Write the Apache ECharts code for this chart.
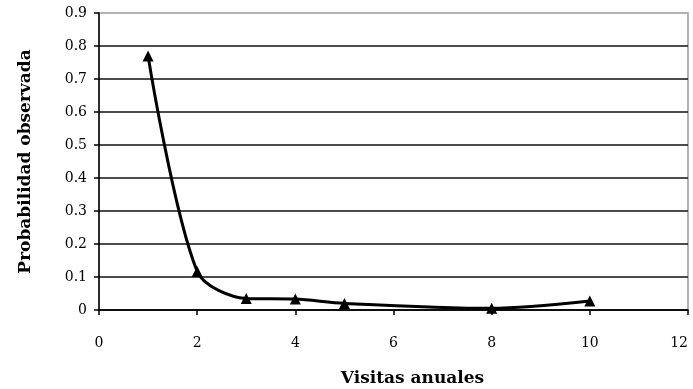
<!DOCTYPE html>
<html>
<head>
<meta charset="utf-8">
<script src="https://cdn.jsdelivr.net/npm/echarts@6/dist/echarts.min.js"></script>
<style>html,body{margin:0;padding:0;background:#fff;}#c{width:693px;height:389px;}</style>
</head>
<body>
<div id="c"></div>
<script>
var visitas = [1, 2, 3, 4, 5, 8, 10];
var probabilidad = [0.77, 0.117, 0.035, 0.033, 0.02, 0.005, 0.027];
var xTicks = [0, 2, 4, 6, 8, 10, 12];
var yTicks = [0, 0.1, 0.2, 0.3, 0.4, 0.5, 0.6, 0.7, 0.8, 0.9];

var font = 'DejaVu Serif';
var chart = echarts.init(document.getElementById('c'));
chart.setOption({
  animation: false,
  backgroundColor: '#fff',
  grid: { left: 99, right: 5, top: 13, bottom: 79, show: true, borderColor: '#999', borderWidth: 1.5,
    outerBoundsMode: 'none', containLabel: false },
  xAxis: {
    type: 'value', min: xTicks[0], max: xTicks[xTicks.length - 1], interval: 2,
    name: 'Visitas anuales', nameLocation: 'middle', nameGap: 60,
    nameTextStyle: { fontFamily: font, fontWeight: 'bold', fontSize: 17, color: '#000', padding: [0, 0, 0, 38] },
    axisLine: { lineStyle: { color: '#000', width: 1.5 } },
    axisTick: { show: true, inside: false, length: 5, lineStyle: { color: '#000', width: 1.5 } },
    axisLabel: { fontFamily: font, fontSize: 14, color: '#000', margin: 26, alignMaxLabel: 'right' },
    splitLine: { show: false }
  },
  yAxis: {
    type: 'value', min: yTicks[0], max: yTicks[yTicks.length - 1], interval: 0.1,
    name: 'Probabilidad observada', nameLocation: 'middle', nameGap: 65,
    nameTextStyle: { fontFamily: font, fontWeight: 'bold', fontSize: 17, color: '#000' },
    axisLine: { show: true, lineStyle: { color: '#000', width: 1.5 } },
    axisTick: { show: true, inside: false, length: 5, lineStyle: { color: '#000', width: 1.5 } },
    axisLabel: { fontFamily: font, fontSize: 14, color: '#000', margin: 12,
      formatter: function (v) { return String(Math.round(v * 10) / 10); } },
    splitLine: { show: true, showMaxLine: false, lineStyle: { color: '#111', width: 1.5 } }
  },
  series: [{
    type: 'line',
    data: visitas.map(function (x, i) { return [x, probabilidad[i]]; }),
    smooth: 0.3,
    symbol: 'triangle', symbolSize: 11,
    itemStyle: { color: '#000' },
    lineStyle: { color: '#000', width: 3 }
  }]
});
</script>
</body>
</html>
